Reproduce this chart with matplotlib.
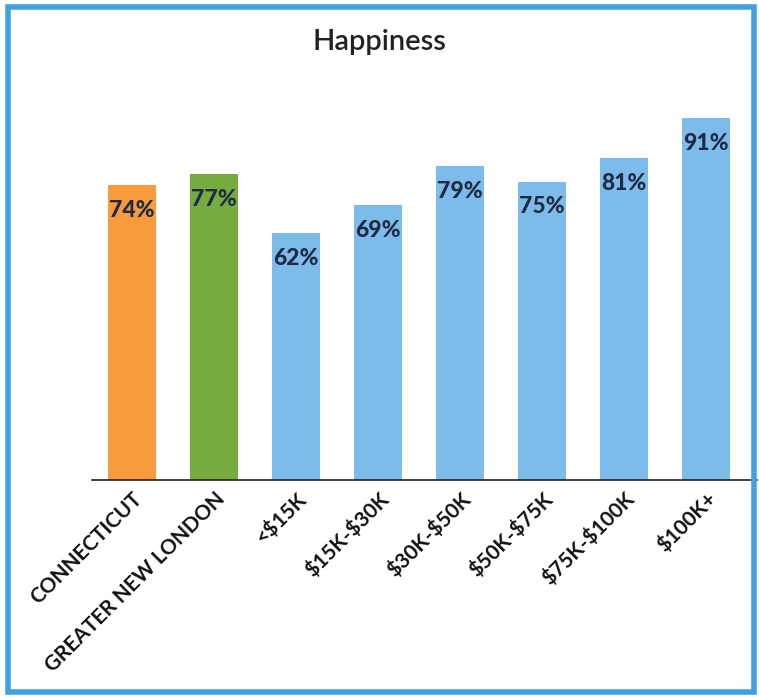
import matplotlib
matplotlib.use("Agg")
import matplotlib.pyplot as plt
from matplotlib.patches import Rectangle

categories = ["CONNECTICUT", "GREATER NEW LONDON", "<$15K", "$15K-$30K",
              "$30K-$50K", "$50K-$75K", "$75K-$100K", "$100K+"]
values = [74, 77, 62, 69, 79, 75, 81, 91]
colors = ["#F79B3C", "#76AC3F", "#7DBBEB", "#7DBBEB", "#7DBBEB", "#7DBBEB", "#7DBBEB", "#7DBBEB"]
title = "Happiness"

plt.rcParams['text.parse_math'] = False
plt.rcParams['font.family'] = ['Lato', 'DejaVu Sans']

fig = plt.figure(figsize=(7.59, 7.00), dpi=100)
ax = fig.add_axes([92/759, 1-480/700, (757-92)/759, 398/700])

x = list(range(len(categories)))
bars = ax.bar(x, values, width=0.585, color=colors)
for xi, v in zip(x, values):
    ax.text(xi, v - 6.4, f"{v}%", ha="center", va="center", fontsize=16.5,
            fontweight="black", color="#1F2B45")

ax.set_xlim(-0.49, 7.62)
ax.set_ylim(0, 100)
ax.set_yticks([])
ax.set_xticks(x)
ax.set_xticklabels(categories, rotation=45, ha="right", rotation_mode="anchor",
                   fontsize=15, fontweight="bold", color="#111111")
ax.tick_params(axis="x", length=0, pad=6)
for s in ["top", "right", "left"]:
    ax.spines[s].set_visible(False)
ax.spines["bottom"].set_color("#222222")
ax.spines["bottom"].set_linewidth(1.2)

fig.text(0.5, 1-42/700, title, ha="center", va="center", fontsize=21,
         fontweight="semibold", color="#222222")

fig.patches.append(Rectangle((8/759, 1-692/700), (754-8)/759, (692-7)/700,
                             transform=fig.transFigure, fill=False,
                             edgecolor="#3FA2E3", linewidth=4))

fig.savefig("out.png", dpi=100)
